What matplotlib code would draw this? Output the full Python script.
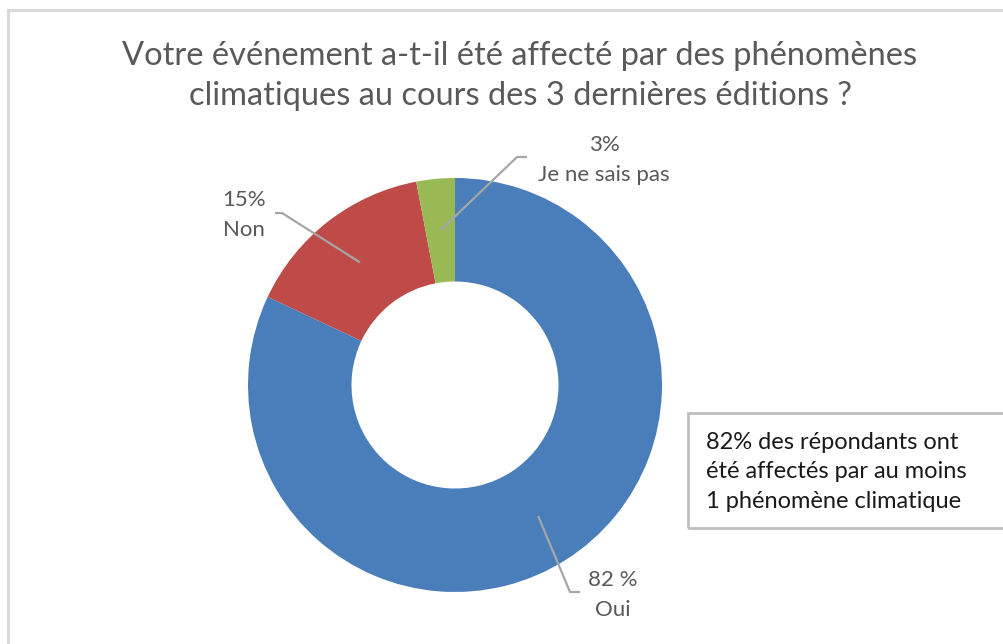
import numpy as np
import matplotlib.pyplot as plt
from matplotlib.patches import Rectangle

plt.rcParams['font.family'] = ['Lato', 'DejaVu Sans']

title = "Votre événement a-t-il été affecté par des phénomènes\nclimatiques au cours des 3 dernières éditions ?"
labels = ['Oui', 'Non', 'Je ne sais pas']
pct_text = ['82 %', '15%', '3%']
values = [82, 15, 3]
colors = ['#4a7ebb', '#be4b48', '#98b954']
note = "82% des répondants ont\nété affectés par au moins\n1 phénomène climatique"

W, H = 1004, 644
fig = plt.figure(figsize=(W / 100, H / 100), dpi=100)
ax = fig.add_axes([0, 0, 1, 1])

cx, cy, R = 455, H - 385, 207
ring = 0.5
wedges, _ = ax.pie(values, colors=colors, startangle=90, counterclock=False,
                   center=(cx, cy), radius=R,
                   wedgeprops=dict(width=R * ring, linewidth=0))
ax.set_xlim(0, W)
ax.set_ylim(0, H)
ax.set_aspect('equal')
ax.axis('off')

# outer chart border
ax.add_patch(Rectangle((8, -20), W + 20, H - 10 + 20, fill=False,
                       edgecolor='#d9d9d9', linewidth=2.2, clip_on=False))

ax.text(W / 2 + 18, H - 76, title, ha='center', va='center', fontsize=23.5,
        color='#595959', linespacing=1.45)

# label placement (elbow point, label center) in pixels
elbows = [(570, H - 592), (282, H - 213), (517, H - 157)]
hor = [10, -7, 10]
label_pos = [(613, H - 595), (244, H - 215), (604, H - 160)]

for w, (ex, ey), dx, (lx, ly), lab, pt in zip(wedges, elbows, hor, label_pos, labels, pct_text):
    mid = np.deg2rad((w.theta1 + w.theta2) / 2)
    rm = R * (1 - ring / 2)
    sx = cx + rm * np.cos(mid)
    sy = cy + rm * np.sin(mid)
    ax.plot([sx, ex, ex + dx], [sy, ey, ey], color='#a6a6a6', lw=1.6,
            solid_capstyle='butt')
    ax.text(lx, ly, pt + '\n' + lab, ha='center', va='center', fontsize=16,
            color='#595959', linespacing=1.6)

ax.add_patch(Rectangle((688, H - 528), 400, 115, fill=False,
                       edgecolor='#bfbfbf', linewidth=2, clip_on=False))
ax.text(706, H - 472, note, ha='left', va='center', fontsize=17,
        color='#1a1a1a', linespacing=1.5)

fig.savefig('out.png', dpi=100, facecolor='white')
